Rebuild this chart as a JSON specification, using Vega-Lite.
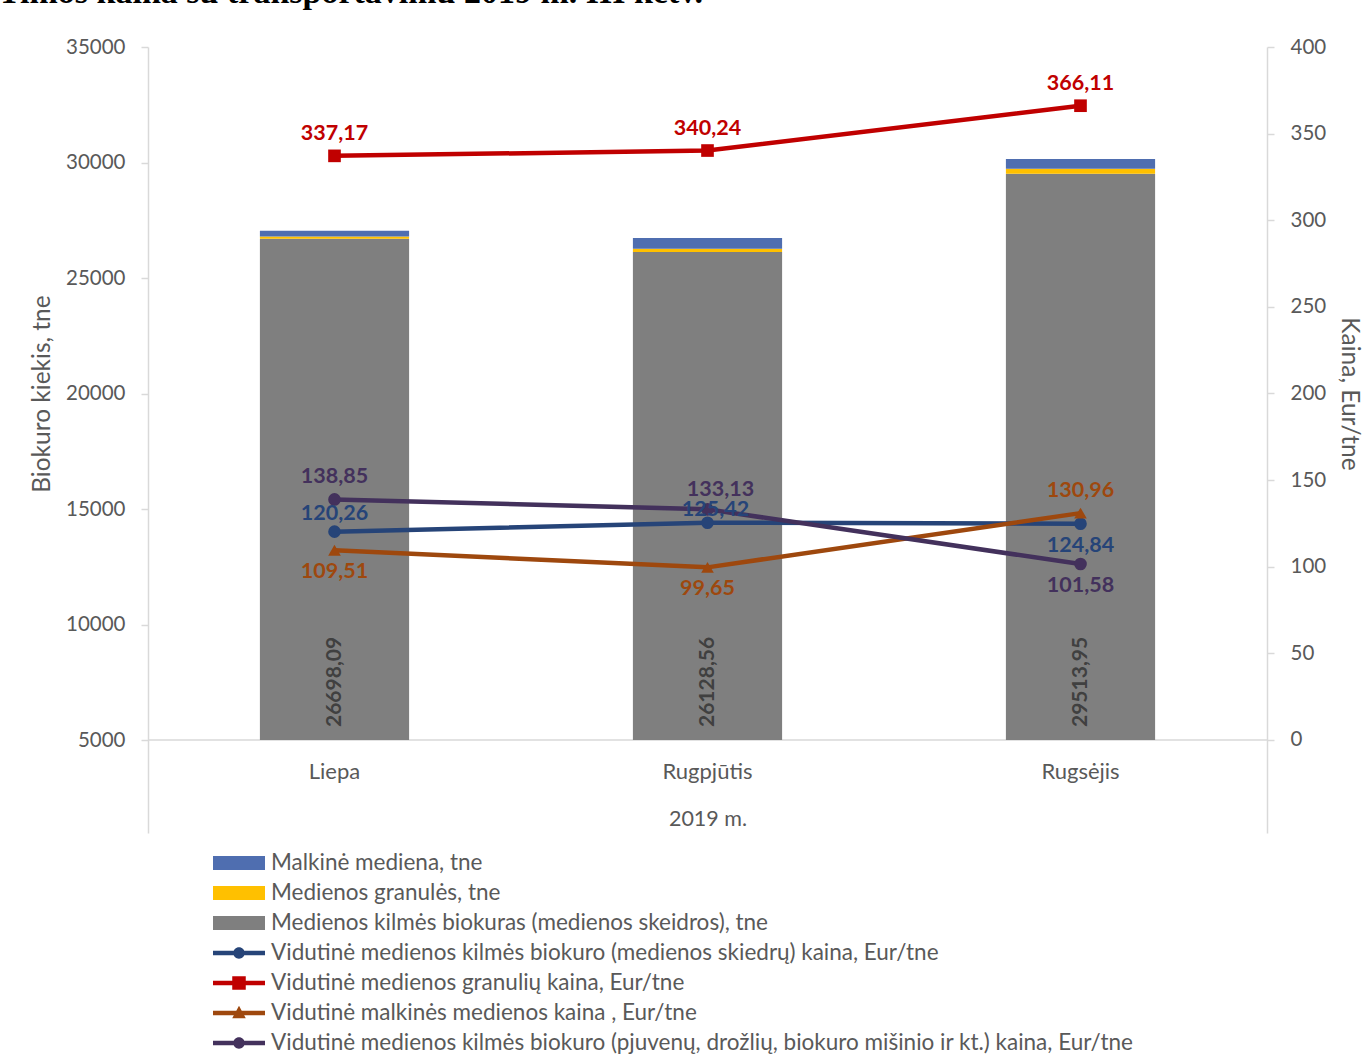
{
  "$schema": "https://vega.github.io/schema/vega-lite/v6.json",
  "autosize": {"type": "none"},
  "padding": {"left": 148, "top": 47, "right": 101, "bottom": 224},
  "width": 1119,
  "height": 786,
  "background": "white",
  "config": {
    "view": {"stroke": null},
    "font": "Lato",
    "locale": {"number": {"decimal": ",", "thousands": "", "grouping": [3], "currency": ["", ""]}}
  },
  "title": {
    "text": "Timos kaina su transportavimu 2019 m. III ketv.",
    "anchor": "start",
    "frame": "group",
    "font": "Liberation Serif",
    "fontSize": 34,
    "fontWeight": "bold",
    "color": "#000000",
    "baseline": "alphabetic",
    "dx": -150,
    "offset": 0
  },
  "datasets": {
    "bars": [
      {"month": "Liepa", "series": "Medienos kilmės biokuras (medienos skeidros),  tne", "amount": 26698.09},
      {"month": "Liepa", "series": "Medienos granulės, tne", "amount": 100},
      {"month": "Liepa", "series": "Malkinė mediena, tne", "amount": 250},
      {"month": "Rugpjūtis", "series": "Medienos kilmės biokuras (medienos skeidros),  tne", "amount": 26128.56},
      {"month": "Rugpjūtis", "series": "Medienos granulės, tne", "amount": 140},
      {"month": "Rugpjūtis", "series": "Malkinė mediena, tne", "amount": 460},
      {"month": "Rugsėjis", "series": "Medienos kilmės biokuras (medienos skeidros),  tne", "amount": 29513.95},
      {"month": "Rugsėjis", "series": "Medienos granulės, tne", "amount": 220},
      {"month": "Rugsėjis", "series": "Malkinė mediena, tne", "amount": 420}
    ],
    "prices": [
      {"month": "Liepa", "series": "Vidutinė medienos kilmės biokuro (medienos skiedrų) kaina, Eur/tne", "price": 120.26},
      {"month": "Rugpjūtis", "series": "Vidutinė medienos kilmės biokuro (medienos skiedrų) kaina, Eur/tne", "price": 125.42},
      {"month": "Rugsėjis", "series": "Vidutinė medienos kilmės biokuro (medienos skiedrų) kaina, Eur/tne", "price": 124.84},
      {"month": "Liepa", "series": "Vidutinė medienos granulių  kaina, Eur/tne", "price": 337.17},
      {"month": "Rugpjūtis", "series": "Vidutinė medienos granulių  kaina, Eur/tne", "price": 340.24},
      {"month": "Rugsėjis", "series": "Vidutinė medienos granulių  kaina, Eur/tne", "price": 366.11},
      {"month": "Liepa", "series": "Vidutinė malkinės medienos kaina , Eur/tne", "price": 109.51},
      {"month": "Rugpjūtis", "series": "Vidutinė malkinės medienos kaina , Eur/tne", "price": 99.65},
      {"month": "Rugsėjis", "series": "Vidutinė malkinės medienos kaina , Eur/tne", "price": 130.96},
      {"month": "Liepa", "series": "Vidutinė medienos kilmės biokuro (pjuvenų, drožlių, biokuro mišinio ir kt.) kaina, Eur/tne", "price": 138.85},
      {"month": "Rugpjūtis", "series": "Vidutinė medienos kilmės biokuro (pjuvenų, drožlių, biokuro mišinio ir kt.) kaina, Eur/tne", "price": 133.13},
      {"month": "Rugsėjis", "series": "Vidutinė medienos kilmės biokuro (pjuvenų, drožlių, biokuro mišinio ir kt.) kaina, Eur/tne", "price": 101.58}
    ]
  },
  "layer": [
    {
      "data": {"values": [{}]},
      "mark": {"type": "rule", "color": "#D9D9D9", "strokeWidth": 1.5},
      "encoding": {
        "y": {
          "datum": 5000,
          "type": "quantitative",
          "scale": {"domain": [974.03, 35000], "nice": false, "zero": false},
          "axis": {
            "orient": "left",
            "values": [5000, 10000, 15000, 20000, 25000, 30000, 35000],
            "format": "d",
            "grid": false,
            "domainColor": "#D9D9D9",
            "domainWidth": 1.5,
            "tickColor": "#D9D9D9",
            "tickWidth": 1.5,
            "tickSize": 7,
            "labelFont": "Lato",
            "labelFontSize": 20.5,
            "labelColor": "#595959",
            "labelPadding": 16,
            "title": "Biokuro kiekis, tne",
            "titleFont": "Lato",
            "titleFontSize": 24.5,
            "titleFontWeight": "normal",
            "titleColor": "#595959",
            "titleAngle": 270,
            "titleBaseline": "middle",
            "titleAlign": "center",
            "titleX": -106,
            "titleY": 346.5
          }
        }
      }
    },
    {
      "data": {"name": "bars"},
      "encoding": {
        "x": {
          "field": "month",
          "type": "nominal",
          "sort": ["Liepa", "Rugpjūtis", "Rugsėjis"],
          "scale": {"domain": ["Liepa", "Rugpjūtis", "Rugsėjis"], "paddingInner": 0.6, "paddingOuter": 0.3},
          "axis": {
            "orient": "bottom",
            "offset": -93,
            "domain": false,
            "ticks": false,
            "labelAngle": 0,
            "labelPadding": 21,
            "labelFont": "Lato",
            "labelFontSize": 22,
            "labelColor": "#595959",
            "title": "2019 m.",
            "titleFont": "Lato",
            "titleFontSize": 21.5,
            "titleFontWeight": "normal",
            "titleColor": "#595959",
            "titlePadding": 26
          }
        }
      },
      "layer": [
        {
          "mark": {"type": "bar"},
          "encoding": {
            "y": {
              "field": "amount",
              "type": "quantitative",
              "stack": "zero",
              "scale": {"domain": [5000, 35000], "range": [693, 0], "clamp": true, "nice": false, "zero": false},
              "axis": null
            },
            "color": {
              "field": "series",
              "type": "nominal",
              "scale": {
                "domain": ["Malkinė mediena, tne", "Medienos granulės, tne", "Medienos kilmės biokuras (medienos skeidros),  tne"],
                "range": ["#4F6EB0", "#FFC000", "#7F7F7F"]
              },
              "legend": {
                "orient": "none",
                "legendX": 65,
                "legendY": 801,
                "title": null,
                "padding": 0,
                "symbolType": "M-1,-0.27H1V0.27H-1Z",
                "symbolSize": 2704,
                "symbolStrokeWidth": 0,
                "labelFont": "Lato",
                "labelFontSize": 22.5,
                "labelColor": "#595959",
                "labelOffset": 6,
                "labelLimit": 1000,
                "clipHeight": 30,
                "rowPadding": 0
              }
            },
            "order": {"field": "series", "type": "nominal", "sort": "descending"}
          }
        },
        {
          "transform": [{"filter": "datum.amount > 20000"}],
          "mark": {"type": "text", "angle": 270, "align": "left", "baseline": "middle", "dx": 13, "fontWeight": "bold", "fontSize": 21, "font": "Lato", "color": "#404040"},
          "encoding": {
            "y": {"datum": 5000, "type": "quantitative"},
            "text": {"field": "amount", "type": "quantitative", "format": ".2f"}
          }
        }
      ]
    },
    {
      "data": {"name": "prices"},
      "encoding": {
        "x": {
          "field": "month",
          "type": "nominal",
          "sort": ["Liepa", "Rugpjūtis", "Rugsėjis"],
          "bandPosition": 0.5
        },
        "y": {
          "field": "price",
          "type": "quantitative",
          "scale": {"domain": [-53.68, 400], "nice": false, "zero": false},
          "axis": {
            "orient": "right",
            "values": [0, 50, 100, 150, 200, 250, 300, 350, 400],
            "format": "d",
            "grid": false,
            "domainColor": "#D9D9D9",
            "domainWidth": 1.5,
            "tickColor": "#D9D9D9",
            "tickWidth": 1.5,
            "tickSize": 7,
            "labelFont": "Lato",
            "labelFontSize": 20.5,
            "labelColor": "#595959",
            "labelPadding": 16,
            "title": "Kaina, Eur/tne",
            "titleFont": "Lato",
            "titleFontSize": 24.5,
            "titleFontWeight": "normal",
            "titleColor": "#595959",
            "titleAngle": 90,
            "titleBaseline": "middle",
            "titleAlign": "center",
            "titleX": 81,
            "titleY": 346.5
          }
        },
        "color": {
          "field": "series",
          "type": "nominal",
          "scale": {
            "domain": [
              "Vidutinė medienos kilmės biokuro (medienos skiedrų) kaina, Eur/tne",
              "Vidutinė medienos granulių  kaina, Eur/tne",
              "Vidutinė malkinės medienos kaina , Eur/tne",
              "Vidutinė medienos kilmės biokuro (pjuvenų, drožlių, biokuro mišinio ir kt.) kaina, Eur/tne"
            ],
            "range": ["#264478", "#C00000", "#9E480E", "#43315C"]
          },
          "legend": {
            "orient": "none",
            "legendX": 65,
            "legendY": 891,
            "title": null,
            "padding": 0,
            "symbolType": "M-1,-0.09H1V0.09H-1Z M-0.22,0A0.22,0.22 0 1,1 0.22,0A0.22,0.22 0 1,1 -0.22,0Z",
            "symbolSize": 2704,
            "symbolStrokeWidth": 0,
            "labelFont": "Lato",
            "labelFontSize": 22.5,
            "labelColor": "#595959",
            "labelOffset": 6,
            "labelLimit": 1000,
            "clipHeight": 30,
            "rowPadding": 0,
            "encode": {
              "symbols": {
                "update": {
                  "shape": {"signal": "datum.value == 'Vidutinė medienos granulių  kaina, Eur/tne' ? 'M-1,-0.09H1V0.09H-1Z M-0.26,-0.26H0.26V0.26H-0.26Z' : datum.value == 'Vidutinė malkinės medienos kaina , Eur/tne' ? 'M-1,-0.09H1V0.09H-1Z M0,-0.28L0.26,0.2L-0.26,0.2Z' : 'M-1,-0.09H1V0.09H-1Z M-0.22,0A0.22,0.22 0 1,1 0.22,0A0.22,0.22 0 1,1 -0.22,0Z'"},
                  "fill": {"signal": "datum.value == 'Vidutinė medienos granulių  kaina, Eur/tne' ? '#C00000' : datum.value == 'Vidutinė malkinės medienos kaina , Eur/tne' ? '#9E480E' : datum.value == 'Vidutinė medienos kilmės biokuro (medienos skiedrų) kaina, Eur/tne' ? '#264478' : '#43315C'"},
                  "fillOpacity": {"value": 1},
                  "opacity": {"value": 1},
                  "strokeWidth": {"value": 0}
                }
              }
            }
          }
        }
      },
      "layer": [
        {"mark": {"type": "line", "strokeWidth": 4.5}},
        {
          "mark": {"type": "point", "filled": true, "opacity": 1},
          "encoding": {
            "shape": {
              "field": "series",
              "type": "nominal",
              "scale": {
                "domain": [
                  "Vidutinė medienos kilmės biokuro (medienos skiedrų) kaina, Eur/tne",
                  "Vidutinė medienos granulių  kaina, Eur/tne",
                  "Vidutinė malkinės medienos kaina , Eur/tne",
                  "Vidutinė medienos kilmės biokuro (pjuvenų, drožlių, biokuro mišinio ir kt.) kaina, Eur/tne"
                ],
                "range": ["circle", "square", "triangle-up", "circle"]
              },
              "legend": null
            },
            "size": {"value": 160}
          }
        },
        {
          "transform": [{"filter": "datum.series == 'Vidutinė medienos granulių  kaina, Eur/tne' || (datum.series == 'Vidutinė malkinės medienos kaina , Eur/tne' && datum.month == 'Rugsėjis') || (datum.series == 'Vidutinė medienos kilmės biokuro (pjuvenų, drožlių, biokuro mišinio ir kt.) kaina, Eur/tne' && datum.month == 'Liepa')"}],
          "mark": {"type": "text", "fontWeight": "bold", "fontSize": 21.5, "font": "Lato", "baseline": "middle", "dy": -22},
          "encoding": {"text": {"field": "price", "type": "quantitative", "format": ".2f"}}
        },
        {
          "transform": [{"filter": "datum.series == 'Vidutinė medienos kilmės biokuro (medienos skiedrų) kaina, Eur/tne' && datum.month == 'Liepa'"}],
          "mark": {"type": "text", "fontWeight": "bold", "fontSize": 21.5, "font": "Lato", "baseline": "middle", "dy": -18},
          "encoding": {"text": {"field": "price", "type": "quantitative", "format": ".2f"}}
        },
        {
          "transform": [{"filter": "datum.series == 'Vidutinė medienos kilmės biokuro (medienos skiedrų) kaina, Eur/tne' && datum.month == 'Rugpjūtis'"}],
          "mark": {"type": "text", "fontWeight": "bold", "fontSize": 21.5, "font": "Lato", "baseline": "middle", "dy": -13, "dx": 8},
          "encoding": {"text": {"field": "price", "type": "quantitative", "format": ".2f"}}
        },
        {
          "transform": [{"filter": "datum.series == 'Vidutinė medienos kilmės biokuro (pjuvenų, drožlių, biokuro mišinio ir kt.) kaina, Eur/tne' && datum.month == 'Rugpjūtis'"}],
          "mark": {"type": "text", "fontWeight": "bold", "fontSize": 21.5, "font": "Lato", "baseline": "middle", "dy": -19, "dx": 13},
          "encoding": {"text": {"field": "price", "type": "quantitative", "format": ".2f"}}
        },
        {
          "transform": [{"filter": "(datum.series == 'Vidutinė malkinės medienos kaina , Eur/tne' && datum.month != 'Rugsėjis') || (datum.month == 'Rugsėjis' && (datum.series == 'Vidutinė medienos kilmės biokuro (medienos skiedrų) kaina, Eur/tne' || datum.series == 'Vidutinė medienos kilmės biokuro (pjuvenų, drožlių, biokuro mišinio ir kt.) kaina, Eur/tne'))"}],
          "mark": {"type": "text", "fontWeight": "bold", "fontSize": 21.5, "font": "Lato", "baseline": "middle", "dy": 22},
          "encoding": {"text": {"field": "price", "type": "quantitative", "format": ".2f"}}
        }
      ]
    }
  ],
  "resolve": {
    "scale": {"y": "independent", "color": "independent"},
    "axis": {"y": "independent"},
    "legend": {"color": "independent"}
  }
}
